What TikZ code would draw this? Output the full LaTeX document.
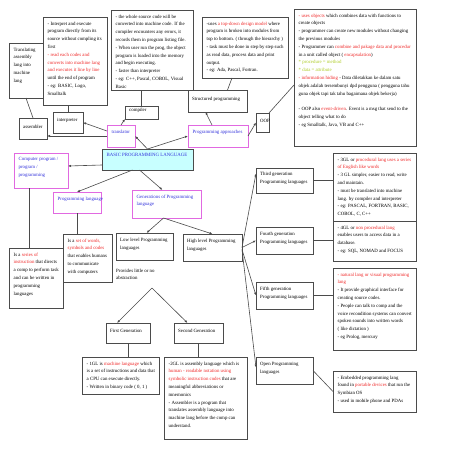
\documentclass[tikz,border=0pt]{standalone}
\usepackage{fontspec}
\setmainfont{Liberation Serif}
\usetikzlibrary{arrows.meta,fit,calc}
\definecolor{bord}{RGB}{75,75,75}
\definecolor{mgb}{RGB}{225,105,225}
\definecolor{bl}{RGB}{50,50,220}
\definecolor{rd}{RGB}{240,40,40}
\definecolor{yg}{RGB}{175,205,40}
\definecolor{cyanbg}{RGB}{200,255,255}
\newcommand\fs{\fontsize{4.85}{7.8}\selectfont}
\newcommand\R[1]{\textcolor{rd}{#1}}
\newcommand\tbox[7]{\node[#2, fit={(#3,#4)(#5,#6)}] (#1) {};
  \node[#2t] at ({#3+4.5},{#4+4.5}) {#7};}
\newcommand\cbox[7]{\node[#2, fit={(#3,#4)(#5,#6)}] (#1) {};
  \node[#2t, anchor=west] at ({#3+4},{(#4+#6)/2-2}) {#7};}
\begin{document}
\begin{tikzpicture}[x=1pt,y=-1pt,
  bx/.style={draw=bord, line width=0.8pt, inner sep=0pt, outer sep=0pt, rectangle},
  mg/.style={bx, draw=mgb},
  cy/.style={bx, fill=cyanbg},
  txt/.style={font=\fs, align=left, inner sep=0pt, anchor=north west, text=black},
  bxt/.style={txt}, mgt/.style={txt, text=bl}, cyt/.style={txt, text=bl},
  con/.style={draw=bord, line width=0.6pt},
  arr/.style={con, -{Latex[length=3pt,width=2.4pt]}}]
\fill[white] (0,0) rectangle (452,452);
\useasboundingbox (0,0) rectangle (452,452);

% top row descriptions
\tbox{trans}{bx}{9}{43}{43}{98}{Translating\\assembly\\lang into\\machine\\lang}
\tbox{interpd}{bx}{43}{17}{107}{105}{- Interpret and execute\\program directly from its\\source without compling its\\first\\\R{- read each codes and}\\\R{converts into machine lang}\\\R{and executes it line by line}\\until the end of program\\- eg: BASIC, Logo,\\Smalltalk}
\tbox{compd}{bx}{111}{10}{193}{90}{- the whole source code will be\\converted into machine code. If the\\compiler encounters any errors, it\\records them in program listing file.\\- When user run the prog, the object\\program is loaded into the memory\\and begin executing.\\- faster than interpreter\\- eg: C++, Pascal, COBOL, Visual\\Basic}
\tbox{structd}{bx}{202}{17}{288}{78}{-uses \R{a top-down design model} where\\program is broken into modules from\\top to bottom. ( through the hierarchy )\\- task must be done in step by step such\\as read data, process data and print\\output.\\- eg: Ada, Pascal, Fortran.}
\tbox{oopd}{bx}{294}{9}{416}{146}{\R{- uses objects} which combines data with functions to\\create objects\\- programmer can create new modules without changing\\the previous modules\\- Programmer can \R{combine and pakage data and procedur}\\in a unit called object ( \R{encapsulation})\\\textcolor{yg}{* procedure = method}\\\textcolor{yg}{* data = attribute}\\\R{- information hiding} - Data diletakkan ke dalam satu\\objek adalah tersembunyi dpd pengguna ( pengguna tahu\\guna objek tapi tak tahu bagaimana objek bekerja)\\[7.8pt]- OOP also \R{event-driven}. Event is a msg that send to the\\object telling what to do\\- eg Smalltalk, Java, VB and C++}

% small boxes
\cbox{asm}{bx}{19}{118}{47}{139}{assembler}
\cbox{interp}{bx}{53}{112}{83}{133}{interpreter}
\cbox{comp}{bx}{125}{106}{158}{119}{compiler}
\tbox{transl}{mg}{107}{125}{135}{147}{translator}
\cbox{struct}{bx}{188}{90}{247}{112}{Structured programming}
\tbox{papp}{mg}{188}{125}{248}{147}{Programming approaches}
\cbox{oop}{bx}{256}{113}{269}{132}{OOP}
\tbox{basic}{cy}{102}{149}{193}{170}{BASIC PROGRAMMING LANGUAGE}
\tbox{cp}{mg}{14}{153}{68}{188}{Computer program /\\program /\\programming}
\tbox{pl}{mg}{53}{192}{101}{213}{Programming language}
\tbox{gen}{mg}{132}{190}{201}{218}{Generations of Programming\\language}
\tbox{series}{bx}{9}{248}{63}{308}{Is a \R{series of}\\\R{instruction} that directs\\a comp to perform task\\and can be written in\\programming\\languages}
\tbox{setw}{bx}{63}{234}{112}{282}{Is a \R{set of words,}\\\R{symbols and codes}\\that enables humans\\to communicate\\with computers}
\cbox{low}{bx}{116}{233}{173}{260}{Low level Programming\\languages}
\cbox{high}{bx}{183}{234}{242}{261}{High level Programming\\languages}
\node[txt] (provides) at (116,268.5) {Provides little or no\\abstraction};
\coordinate (pv) at (152,288);

% generations
\cbox{third}{bx}{256}{168}{313}{193}{Third generation\\Programming languages}
\tbox{thirdd}{bx}{333}{153}{416}{221}{- 3GL or \R{procedural lang uses a series}\\\R{of English like words}\\- 3 GL simpler, easier to read, write\\and maintain.\\- must be translated into machine\\lang. by compiler and interpreter\\- eg: PASCAL, FORTRAN, BASIC,\\COBOL, C, C++}
\cbox{fourth}{bx}{256}{227}{313}{254}{Fourth generation\\Programming languages}
\tbox{fourthd}{bx}{333}{221}{416}{261}{- 4GL or \R{non procedural lang}\\enables users to access data in a\\database.\\- eg: SQL, NOMAD and FOCUS}
\cbox{fifth}{bx}{256}{282}{313}{309}{Fifth generation\\Programming languages}
\tbox{fifthd}{bx}{333}{268}{416}{350}{\R{- natural lang or visual programming}\\\R{lang}\\- It provide graphical interface for\\creating source codes.\\- People can talk to comp and the\\voice recondition systems can convert\\spoken sounds into written words\\( like dictation )\\- eg Prolog, mercury}
\cbox{open}{bx}{256}{357}{313}{384}{Open Programming\\languages}
\tbox{opend}{bx}{333}{371}{416}{412}{- Embedded programming lang\\found in \R{portable devices} that run the\\Symbian OS\\- used in mobile phone and PDAs}
\cbox{first}{bx}{106}{323}{150}{343}{First Generation}
\tbox{firstd}{bx}{82}{357}{159}{394}{- 1GL is \R{machine language} which\\is a set of instructions and data that\\a CPU can execute directly.\\- Written in binary code ( 0, 1 )}
\cbox{second}{bx}{174}{323}{223}{343}{Second Generation}
\tbox{secondd}{bx}{164}{357}{247}{439}{-2GL is assembly language which is\\\R{human - readable notation using}\\\R{symbolic instruction codes} that are\\meaningful abbreviations or\\mnemonics\\- Assembler is a program that\\translates assembly language into\\machine lang before the comp can\\understand.}

% connectors
\draw[con] (trans.south) -- (asm.north);
\draw[con] (interp.north) -- (interp.north |- interpd.south);
\draw[con] (comp.north) -- (comp.north |- compd.south);
\draw[arr] (transl.west) -- ([yshift=-7.5pt]asm.east);
\draw[arr] ([yshift=5pt]transl.west) -- (interp.east);
\draw[arr] (transl.north) -- (comp.south west);
\draw[arr] (basic.north) -- (transl.east);
\draw[arr] (basic.north) -- (papp.west);
\draw[arr] ([xshift=-6pt]papp.north) -- ([xshift=-12pt]struct.south);
\draw[con] ([xshift=10pt]struct.north) -- ([xshift=-13pt]structd.south);
\draw[arr] (papp.east) -- (oop.west);
\draw[con] (oop.north east) -- ([yshift=-7.5pt]oopd.west);
\draw[arr] ([yshift=-5.5pt]basic.west) -- ([yshift=4.5pt]cp.east);
\draw[arr] ([xshift=-15pt]basic.south) -- (pl.north);
\draw[arr] ([xshift=-8pt]basic.south) -- ([xshift=-4pt]gen.north);
\coordinate (cpb) at ([xshift=-12pt]cp.south);
\draw[con] (cpb) -- (cpb |- series.north);
\draw[con] (pl.south) -- (pl.south |- setw.north);
\draw[arr] ([xshift=-3pt]gen.south) -- ([xshift=2pt]low.north);
\draw[arr] ([xshift=-3pt]gen.south) -- (high.north);
\draw[arr] (pv) -- ([xshift=-11pt]first.north);
\draw[arr] (pv) -- ([xshift=-11pt]second.north);
\draw[con] (first.south) -- (first.south |- firstd.north);
\draw[con] (second.south) -- (second.south |- secondd.north);
\draw[arr] (high.east) -- ([yshift=7pt]third.west);
\draw[arr] (high.east) -- (fourth.west);
\draw[arr] ([yshift=-2pt]high.east) -- (fifth.west);
\draw[arr] ([yshift=-2pt]high.east) -- ([yshift=3pt]open.west);
\draw[con] (third.east) -- (third.east -| thirdd.west);
\draw[con] (fourth.east) -- (fourth.east -| fourthd.west);
\draw[con] (fifth.east) -- (fifth.east -| fifthd.west);
\draw[con] (open.east) -- (opend.west);
\end{tikzpicture}
\end{document}
